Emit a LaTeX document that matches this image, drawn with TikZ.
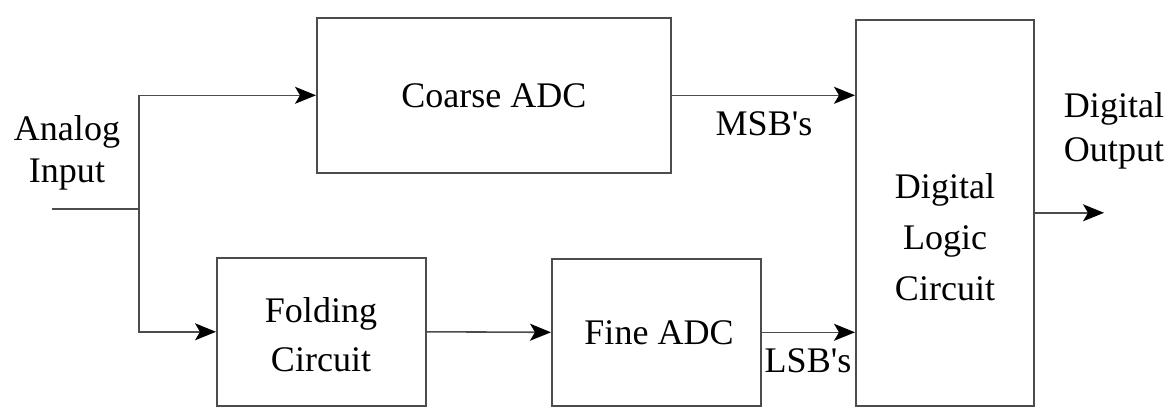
\documentclass[tikz,border=0pt]{standalone}
\usepackage{fontspec}
\setmainfont{Liberation Serif}
\usetikzlibrary{arrows.meta,calc}
\begin{document}
\begin{tikzpicture}[x=0.02cm,y=-0.02cm,
  box/.style={draw=black!70,line width=0.9pt,inner sep=0pt,anchor=north west},
  conn/.style={draw=black!70,line width=0.9pt},
  arr/.style={conn,-{Stealth[length=0.42cm,width=0.34cm,inset=0.1cm,fill=black,color=black]}},
  txt/.style={font=\fontsize{20.5}{23}\selectfont,align=center,inner sep=0pt}
]
\useasboundingbox (0,0) rectangle (1171,407);
% boxes
\node[box,minimum width=354*0.02cm,minimum height=155*0.02cm] (coarse) at (316,17) {};
\node[box,minimum width=178*0.02cm,minimum height=386*0.02cm] (digital) at (855,19) {};
\node[box,minimum width=209*0.02cm,minimum height=148*0.02cm] (folding) at (216,257) {};
\node[box,minimum width=209*0.02cm,minimum height=147*0.02cm] (fine) at (551,258) {};
% box texts
\node[txt] (tcoarse) at (coarse.center) {Coarse ADC};
\node[txt,font=\fontsize{20.5}{28}\selectfont] (tfold) at (321,335) {Folding\\Circuit};
\node[txt] (tfine) at (659,333) {Fine ADC};
\node[txt,font=\fontsize{20.5}{29}\selectfont] (tdig) at (945,237) {Digital\\Logic\\Circuit};
% labels
\node[txt,font=\fontsize{20.5}{24}\selectfont] (lin) at (67,153) {Analog\\Input};
\node[txt,font=\fontsize{20.5}{25}\selectfont] (lout) at (1114,131) {Digital\\Output};
\node[txt] (lmsb) at (764,124) {MSB\textquotesingle s};
\node[txt] (llsb) at (808,361) {LSB\textquotesingle s};
% connectors
\coordinate (in) at (52,209);
\coordinate (junc) at (139,209);
\coordinate (out) at (1104,213);
\draw[conn] (in) -- (junc);
\draw[arr] (junc) |- (coarse.west);
\draw[arr] (junc) |- (folding.west);
\draw[arr] (folding.east) -- (fine.west);
\draw[arr] (coarse.east) -- (coarse.east -| digital.west);
\draw[arr] (fine.east) -- (fine.east -| digital.west);
\draw[arr] (digital.east) -- (digital.east -| out);
\end{tikzpicture}
\end{document}
